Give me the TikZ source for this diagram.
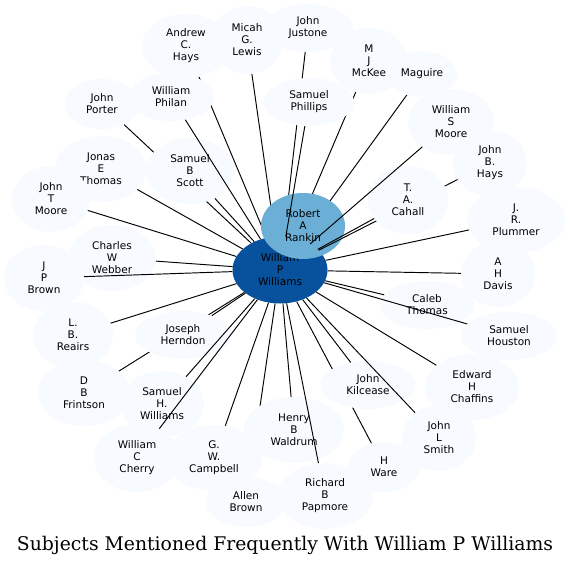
\documentclass[tikz,border=0pt]{standalone}
\usepackage{fontspec}
\setmainfont{DejaVu Sans}
\newfontfamily\titlefont{DejaVu Serif}
\usepackage{xcolor}
\usetikzlibrary{shapes.geometric}
\definecolor{subjfill}{HTML}{F7FBFF}
\definecolor{rankfill}{HTML}{6BAED6}
\definecolor{mainfill}{HTML}{08519C}
\pgfdeclarelayer{under}
\pgfdeclarelayer{mid}
\pgfsetlayers{under,mid,main}

\begin{document}
\begin{tikzpicture}[x=1pt, y=-1pt,
    subj/.style={ellipse, fill=subjfill, inner sep=0pt, align=center,
      font=\fontsize{10.5}{12}\selectfont},
    lnk/.style={line width=0.95pt, black}]
    \useasboundingbox (0,0) rectangle (570,567);
    % the two central people
    \begin{pgfonlayer}{under}
    \node[subj, fill=mainfill, minimum width=95, minimum height=67] (wpw) at (280,270) {William\\P\\Williams};
    \end{pgfonlayer}
    \begin{pgfonlayer}{mid}
    \node[subj, fill=rankfill, minimum width=84, minimum height=66] (rar) at (303,226) {Robert\\A\\Rankin};
    \end{pgfonlayer}
    % everybody else
    \node[subj, minimum width=88, minimum height=64] (ach) at (186,46)  {Andrew\\C.\\Hays};
    \node[subj, minimum width=72, minimum height=68] (mgl) at (247,40)  {Micah\\G.\\Lewis};
    \node[subj, minimum width=90, minimum height=48] (jju) at (308,28)  {John\\Justone};
    \node[subj, minimum width=78, minimum height=66] (mjm) at (369,61)  {M\\J\\McKee};
    \node[subj, minimum width=70, minimum height=46] (mag) at (422,74)  {Maguire};
    \node[subj, minimum width=76, minimum height=50] (jpo) at (102,104) {John\\Porter};
    \node[subj, minimum width=86, minimum height=48] (wph) at (171,97)  {William\\Philan};
    \node[subj, minimum width=90, minimum height=48] (sph) at (309,102) {Samuel\\Phillips};
    \node[subj, minimum width=86, minimum height=66] (wsm) at (451,122) {William\\S\\Moore};
    \node[subj, minimum width=74, minimum height=66] (jbh) at (490,163) {John\\B.\\Hays};
    \node[subj, minimum width=92, minimum height=66] (jet) at (101,169) {Jonas\\E\\Thomas};
    \node[subj, minimum width=88, minimum height=66] (sbs) at (190,171) {Samuel\\B\\Scott};
    \node[subj, minimum width=78, minimum height=66] (jtm) at (51,199)  {John\\T\\Moore};
    \node[subj, minimum width=80, minimum height=68] (tac) at (408,200) {T.\\A.\\Cahall};
    \node[subj, minimum width=98, minimum height=66] (jrp) at (516,220) {J.\\R.\\Plummer};
    \node[subj, minimum width=88, minimum height=66] (cww) at (112,258) {Charles\\W\\Webber};
    \node[subj, minimum width=80, minimum height=66] (jpb) at (44,278)  {J\\P\\Brown};
    \node[subj, minimum width=74, minimum height=66] (ahd) at (498,274) {A\\H\\Davis};
    \node[subj, minimum width=94, minimum height=48] (cth) at (427,305) {Caleb\\Thomas};
    \node[subj, minimum width=80, minimum height=66] (lbr) at (73,335)  {L.\\B.\\Reairs};
    \node[subj, minimum width=96, minimum height=48] (jhe) at (183,335) {Joseph\\Herndon};
    \node[subj, minimum width=96, minimum height=48] (sho) at (509,336) {Samuel\\Houston};
    \node[subj, minimum width=92, minimum height=66] (dbf) at (84,393)  {D\\B\\Frintson};
    \node[subj, minimum width=84, minimum height=66] (shw) at (162,404) {Samuel\\H.\\Williams};
    \node[subj, minimum width=96, minimum height=48] (jki) at (368,385) {John\\Kilcease};
    \node[subj, minimum width=94, minimum height=66] (ehc) at (472,387) {Edward\\H\\Chaffins};
    \node[subj, minimum width=100, minimum height=66] (hbw) at (294,430) {Henry\\B\\Waldrum};
    \node[subj, minimum width=74, minimum height=66] (jls) at (439,438) {John\\L\\Smith};
    \node[subj, minimum width=86, minimum height=68] (wcc) at (137,458) {William\\C\\Cherry};
    \node[subj, minimum width=96, minimum height=66] (gwc) at (214,458) {G.\\W.\\Campbell};
    \node[subj, minimum width=72, minimum height=50] (hwa) at (384,467) {H\\Ware};
    \node[subj, minimum width=96, minimum height=66] (rbp) at (325,496) {Richard\\B\\Papmore};
    \node[subj, minimum width=80, minimum height=50] (abr) at (246,502) {Allen\\Brown};
    % links that disappear behind other people
    \begin{pgfonlayer}{under}
    \draw[lnk] (ach) -- (wpw);
    \draw[lnk] (mgl) -- (wpw);
    \draw[lnk] (jju) -- (wpw);
    \draw[lnk] (mjm) -- (wpw);
    \draw[lnk] (mag) -- (wpw);
    \draw[lnk] (jpo) -- (wpw);
    \draw[lnk] (hwa) -- (wpw);
    \draw[lnk] (dbf) -- (wpw);
    \draw[lnk] (abr) -- (wpw);
    \end{pgfonlayer}
    \begin{pgfonlayer}{mid}
    \draw[lnk] (jbh) -- (wpw);
    \end{pgfonlayer}
    % links on top
    \draw[lnk] (wph) -- (wpw);
    \draw[lnk] (sph) -- (wpw);
    \draw[lnk] (wsm) -- (wpw);
    \draw[lnk] (tac) -- (wpw);
    \draw[lnk] (jrp) -- (wpw);
    \draw[lnk] (ahd) -- (wpw);
    \draw[lnk] (cth) -- (wpw);
    \draw[lnk] (sho) -- (wpw);
    \draw[lnk] (ehc) -- (wpw);
    \draw[lnk] (jls) -- (wpw);
    \draw[lnk] (jki) -- (wpw);
    \draw[lnk] (rbp) -- (wpw);
    \draw[lnk] (hbw) -- (wpw);
    \draw[lnk] (gwc) -- (wpw);
    \draw[lnk] (wcc) -- (wpw);
    \draw[lnk] (shw) -- (wpw);
    \draw[lnk] (jhe) -- (wpw);
    \draw[lnk] (lbr) -- (wpw);
    \draw[lnk] (jpb) -- (wpw);
    \draw[lnk] (cww) -- (wpw);
    \draw[lnk] (jtm) -- (wpw);
    \draw[lnk] (jet) -- (wpw);
    \draw[lnk] (sbs) -- (wpw);
    % caption
    \node[font=\titlefont\fontsize{18.8}{20}\selectfont] (ttl) at (285,545) {Subjects Mentioned Frequently With William P Williams};
\end{tikzpicture}
\end{document}
